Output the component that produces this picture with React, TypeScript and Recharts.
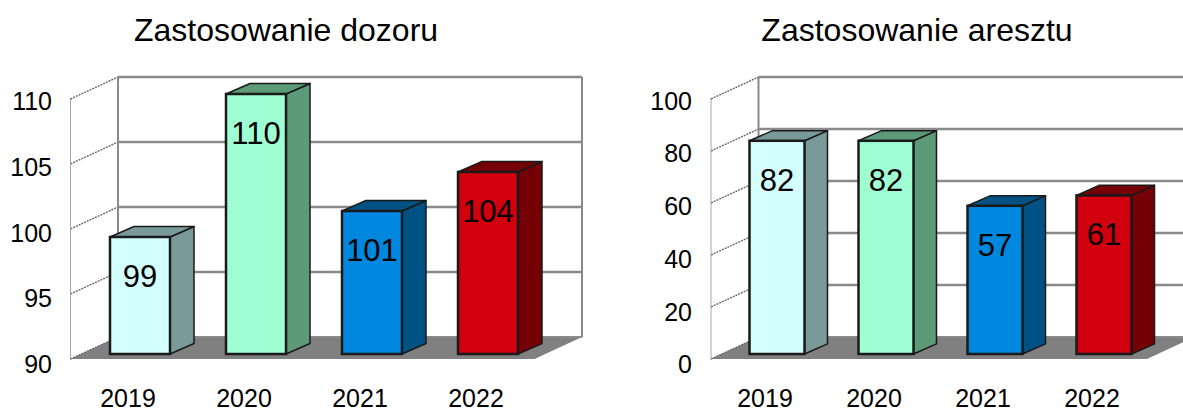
import React from 'react';
import { BarChart, Bar, XAxis, YAxis, CartesianGrid, LabelList } from 'recharts';

const years = ['2019', '2020', '2021', '2022'];
const dozorValues = [99, 110, 101, 104];
const aresztValues = [82, 82, 57, 61];
const dozorTicks = [90, 95, 100, 105, 110];
const aresztTicks = [0, 20, 40, 60, 80, 100];

const frontColors = ['#D4FFFF', '#A0FFD2', '#0088DE', '#D2000E'];
const sideColors = ['#7A9A9A', '#5C9A78', '#005285', '#750005'];
const FONT = '"Liberation Sans", Arial, sans-serif';
const WALL = '#8a8a8a';
const PLOT_TOP = 94;
const PLOT_BOTTOM = 354;

interface Chart3DProps {
    title: string;
    titleCenter: number;
    titleSize: number;
    values: number[];
    ticks: number[];
    left: number;
    width: number;
    plotLeft: number;
    plotWidth: number;
    barSize: number;
    depth: number;
    labelX: number;
}

const Chart3D: React.FC<Chart3DProps> = ({ title, titleCenter, titleSize, values, ticks, left, width, plotLeft, plotWidth, barSize, depth, labelX }) => {
    const data = years.map((year, i) => ({ year, value: values[i] }));
    const frontX = -11.5;
    const backX = 36;
    const backY = -17;
    const frontY = 5;

    const renderGridLine = (props: any) => {
        const { x1, x2, y1, y2, key } = props;
        const isFloor = Math.abs(y1 - PLOT_BOTTOM) < 1;
        const isTop = Math.abs(y1 - PLOT_TOP) < 1;
        return (
            <g key={key}>
                {isFloor && (
                    <polygon
                        points={`${x1 + frontX},${y1 + frontY} ${x2 + frontX},${y1 + frontY} ${x2 + backX},${y1 + backY} ${x1 + backX},${y1 + backY}`}
                        fill="#808080"
                    />
                )}
                {isTop && (
                    <>
                        <line x1={x1 + backX} x2={x1 + backX} y1={y1 + backY} y2={PLOT_BOTTOM + backY} stroke={WALL} strokeWidth={2} />
                        <line x1={x2 + backX} x2={x2 + backX} y1={y1 + backY} y2={PLOT_BOTTOM + backY} stroke={WALL} strokeWidth={2} />
                        <line x1={x1 + frontX} x2={x1 + frontX} y1={y1 + frontY - 1} y2={PLOT_BOTTOM + frontY + 1} stroke="#a8a8a8" strokeWidth={1} />
                    </>
                )}
                <line x1={x1 + backX} x2={x2 + backX} y1={y1 + backY} y2={y2 + backY} stroke={WALL} strokeWidth={isFloor ? 2 : 2.5} />
                <line x1={x1 + frontX} x2={x1 + backX} y1={y1 + frontY} y2={y1 + backY} stroke="#666666" strokeWidth={1.4} strokeDasharray="2 1" />
            </g>
        );
    };

    const renderBar = (props: any) => {
        const { x, y, width: w, height: h, index } = props;
        const dx = depth;
        const dy = depth * 0.44;
        return (
            <g>
                <polygon points={`${x + w},${y} ${x + w + dx},${y - dy} ${x + w + dx},${y + h - dy} ${x + w},${y + h}`} fill={sideColors[index]} stroke="#1a1a1a" strokeWidth={1.5} strokeLinejoin="round" />
                <polygon points={`${x},${y} ${x + dx},${y - dy} ${x + w + dx},${y - dy} ${x + w},${y}`} fill={sideColors[index]} stroke="#1a1a1a" strokeWidth={1.5} strokeLinejoin="round" />
                <rect x={x} y={y} width={w} height={h} fill={frontColors[index]} stroke="#1a1a1a" strokeWidth={2.5} />
            </g>
        );
    };

    // labels sit a little wider apart than the gridlines in the original
    const renderYTick = (props: any) => (
        <text x={labelX} y={props.y + 17.5 + (props.y - 224) * 0.015} textAnchor="end" fontFamily={FONT} fontSize={25} fill="#000">
            {props.payload.value}
        </text>
    );

    const renderXTick = (props: any) => (
        <text x={props.x - 12} y={props.y + 45} textAnchor="middle" fontFamily={FONT} fontSize={25} fill="#000">
            {props.payload.value}
        </text>
    );

    return (
        <div style={{ position: 'absolute', left, top: 0, width, height: 409, overflow: 'hidden' }}>
            <div
                style={{
                    position: 'absolute',
                    left: titleCenter - left - 250,
                    top: 12,
                    width: 500,
                    textAlign: 'center',
                    fontFamily: FONT,
                    fontSize: titleSize,
                    lineHeight: '36px',
                    color: '#000',
                }}
            >
                {title}
            </div>
            <BarChart
                width={width}
                height={409}
                data={data}
                barSize={barSize}
                margin={{ top: PLOT_TOP, bottom: 0, left: plotLeft - left - 60, right: width - (plotLeft - left) - plotWidth }}
            >
                <CartesianGrid vertical={false} horizontal={renderGridLine} />
                <XAxis dataKey="year" axisLine={false} tickLine={false} height={409 - PLOT_BOTTOM} tick={renderXTick} />
                <YAxis width={60} domain={[ticks[0], ticks[ticks.length - 1]]} ticks={ticks} interval={0} axisLine={false} tickLine={false} tick={renderYTick} />
                <Bar dataKey="value" shape={renderBar} isAnimationActive={false}>
                    <LabelList dataKey="value" position="insideTop" offset={28} fill="#000" fontFamily={FONT} fontSize={31} />
                </Bar>
            </BarChart>
        </div>
    );
};

export default function App() {
    return (
        <div style={{ position: 'absolute', left: 0, top: 0, width: 1183, height: 409, overflow: 'hidden', background: '#fff' }}>
            <Chart3D
                title="Zastosowanie dozoru"
                titleCenter={286}
                titleSize={32}
                values={dozorValues}
                ticks={dozorTicks}
                left={0}
                width={620}
                plotLeft={82}
                plotWidth={464}
                barSize={60}
                depth={24}
                labelX={52}
            />
            <Chart3D
                title="Zastosowanie aresztu"
                titleCenter={917}
                titleSize={32}
                values={aresztValues}
                ticks={aresztTicks}
                left={620}
                width={563}
                plotLeft={722.5}
                plotWidth={436}
                barSize={55}
                depth={23}
                labelX={72}
            />
        </div>
    );
}
